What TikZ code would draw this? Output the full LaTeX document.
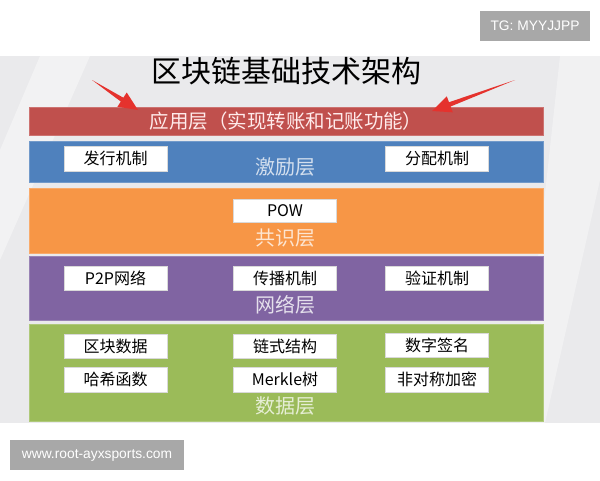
\documentclass[tikz,border=0pt]{standalone}
\usepackage{fontspec}
\setmainfont{Noto Sans CJK SC}
\newfontfamily\wmfont{Liberation Sans}
\usetikzlibrary{calc}
\definecolor{slidebg}{HTML}{EAEAEC}
\definecolor{barred}{HTML}{C0504D}
\definecolor{barblue}{HTML}{4F81BD}
\definecolor{barorange}{HTML}{F79646}
\definecolor{barpurple}{HTML}{8064A2}
\definecolor{bargreen}{HTML}{9BBB59}
\definecolor{arrowred}{HTML}{E5322D}
\definecolor{wmgray}{HTML}{A8A8A8}
\begin{document}
\begin{tikzpicture}[x=1pt,y=-1pt,
  bar/.style={rectangle, inner sep=0pt, minimum width=514pt, line width=0.8pt},
  item/.style={rectangle, fill=white, draw=black!15, line width=0.4pt, minimum width=103pt, inner sep=0pt,
    font=\fontsize{16}{16}\selectfont, text=black},
  layerlabel/.style={inner sep=0pt, font=\fontsize{20}{20}\selectfont},
  wm/.style={rectangle, fill=wmgray, text=white, inner sep=0pt, font=\wmfont\fontsize{13.8}{13.8}\selectfont}]
\useasboundingbox (0,0) rectangle (600,480);
\fill[white] (0,0) rectangle (600,480);
\fill[slidebg] (0,56) rectangle (600,423);
\fill[white, opacity=0.4] (0,150) -- (40,56) -- (90,56) -- (0,260) -- cycle;
\fill[white, opacity=0.35] (560,56) -- (600,56) -- (600,180) -- (545,423) -- (520,423) -- cycle;
% title
\node[inner sep=0pt, font=\fontsize{30}{30}\selectfont] (title) at (286,71) {区块链基础技术架构};
% layers
\node[bar, fill=barred, draw=barred!80!white, minimum height=28pt, text=white!92!red,
      font=\fontsize{19.5}{19.5}\selectfont] (app) at (286,121) {应用层（实现转账和记账功能）};
\node[bar, fill=barblue, draw=barblue!80!white, minimum height=41pt] (incent) at (286,161.5) {};
\node[bar, fill=barorange, draw=barorange!80!white, minimum height=65pt] (cons) at (286,220.5) {};
\node[bar, fill=barpurple, draw=barpurple!80!white, minimum height=64pt] (net) at (286,288) {};
\node[bar, fill=bargreen, draw=bargreen!80!white, minimum height=97pt] (data) at (286,372.5) {};
% incentive layer
\node[item, minimum height=25pt] (issue) at (115.5,158.5) {发行机制};
\node[item, minimum height=25pt] (alloc) at (437,158.5) {分配机制};
\node[layerlabel, text=barblue!25!white] (incentlbl) at (285,167) {激励层};
% consensus layer
\node[item, minimum height=23pt] (pow) at (285,211) {POW};
\node[layerlabel, text=barorange!25!white] (conslbl) at (285,238) {共识层};
% network layer
\node[item, minimum height=24pt] (p2p) at (115.5,278) {P2P网络};
\node[item, minimum height=24pt] (prop) at (285,278) {传播机制};
\node[item, minimum height=24pt] (verif) at (437,278) {验证机制};
\node[layerlabel, text=barpurple!20!white] (netlbl) at (285,305) {网络层};
% data layer
\node[item, minimum height=24pt] (blk) at (115.5,346) {区块数据};
\node[item, minimum height=24pt] (chain) at (285,346) {链式结构};
\node[item, minimum height=24pt] (sign) at (437,345) {数字签名};
\node[item, minimum height=25pt] (hash) at (115.5,379.5) {哈希函数};
\node[item, minimum height=25pt] (merkle) at (285,379.5) {Merkle树};
\node[item, minimum height=25pt] (asym) at (437,379.5) {非对称加密};
\node[layerlabel, text=bargreen!25!white] (datalbl) at (285,406) {数据层};
% arrows (tapered)
\coordinate (lt) at (92,80);
\coordinate (lh) at (138,110);
\coordinate (lb) at ($(lh)!19pt!(lt)$);
\fill[arrowred] (lt) -- ($(lb)!2.3pt!90:(lh)$) -- ($(lb)!8.5pt!90:(lh)$) -- (lh)
  -- ($(lb)!8.5pt!-90:(lh)$) -- ($(lb)!2.3pt!-90:(lh)$) -- cycle;
\coordinate (rt) at (515,80);
\coordinate (rh) at (432,111);
\coordinate (rb) at ($(rh)!19pt!(rt)$);
\fill[arrowred] (rt) -- ($(rb)!2.3pt!90:(rh)$) -- ($(rb)!8.5pt!90:(rh)$) -- (rh)
  -- ($(rb)!8.5pt!-90:(rh)$) -- ($(rb)!2.3pt!-90:(rh)$) -- cycle;
% watermarks
\node[wm, minimum width=110pt, minimum height=30pt] (tg) at (535,25.5) {TG: MYYJJPP};
\node[wm, minimum width=174pt, minimum height=30pt] (site) at (97,455) {www.root-ayxsports.com};
\end{tikzpicture}
\end{document}
